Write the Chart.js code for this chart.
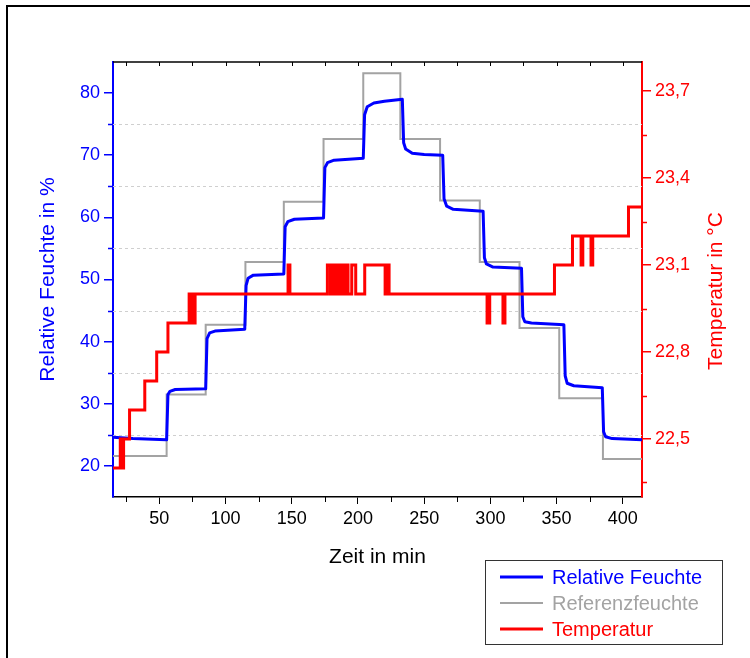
<!DOCTYPE html>
<html>
<head>
<meta charset="utf-8">
<script src="https://cdn.jsdelivr.net/npm/chart.js@4"></script>
<style>
  html, body { margin: 0; padding: 0; background: #fff; }
  #wrap { position: relative; width: 750px; height: 658px; }
</style>
</head>
<body>
<div id="wrap"><canvas id="chart" width="750" height="658"></canvas></div>
<script>
// ── data ────────────────────────────────────────────────────────────────────
const humTime = [15, 30, 45, 55.5, 56.5, 58, 62, 85,
                 86, 88, 92, 114.5, 115.5, 117, 121, 144,
                 145, 147, 152, 174, 175, 177, 182, 204,
                 205, 207, 212, 220, 233.5, 234.5, 236, 241, 250, 264,
                 265, 267, 272, 294.5, 295.5, 297, 302, 323.5,
                 324.5, 326, 331, 355.5, 356.5, 358, 363, 384.5,
                 385.5, 387, 392, 414.5];
const humVal  = [24.6, 24.4, 24.3, 24.2, 31.5, 32.0, 32.3, 32.4,
                 40.5, 41.4, 41.7, 42.0, 49.0, 50.2, 50.7, 50.9,
                 58.5, 59.3, 59.7, 59.9, 68.0, 68.8, 69.2, 69.5,
                 76.5, 77.8, 78.4, 78.7, 79.0, 72.0, 71.0, 70.3, 70.1, 70.0,
                 63.0, 61.8, 61.3, 61.0, 53.5, 52.5, 52.0, 51.8,
                 44.0, 43.2, 43.0, 42.7, 34.5, 33.3, 32.9, 32.6,
                 25.5, 24.7, 24.4, 24.2];

const refTime = [15, 55.5, 85, 115, 144, 174, 204, 232, 262, 292, 322, 352, 385, 414.5];
const refVal  = [21.6, 31.5, 42.7, 52.8, 62.5, 72.6, 83.2, 72.6, 62.7, 52.8, 42.2, 30.9, 21.1, 21.1];

const tempTime = [15, 20.5, 21.5, 23, 27.5, 39, 48, 56.5,
                  72.5, 73.3, 74, 74.8, 75.5, 76.3, 77, 77.8,
                  147.2, 148.6,
                  176.9, 179.2, 181.2, 182.7, 184.2, 186.2, 187.7, 189.5, 190.5, 192.5, 195.3, 198.3,
                  205.1, 220.5, 222.5, 223.5,
                  297.5, 299.5, 309.5, 311,
                  348.4, 362, 368.5, 369.8, 376, 377.3, 404.3, 414.5];
const tempVal  = [22.4, 22.5, 22.4, 22.5, 22.6, 22.7, 22.8, 22.9,
                  23.0, 22.9, 23.0, 22.9, 23.0, 22.9, 23.0, 23.0,
                  23.1, 23.0,
                  23.1, 23.0, 23.1, 23.0, 23.1, 23.0, 23.1, 23.0, 23.1, 23.0, 23.1, 23.0,
                  23.1, 23.0, 23.1, 23.0,
                  22.9, 23.0, 22.9, 23.0,
                  23.1, 23.2, 23.1, 23.2, 23.1, 23.2, 23.3, 23.3];

const xTicks      = [50, 100, 150, 200, 250, 300, 350, 400];
const xMinor      = [25, 75, 125, 175, 225, 275, 325, 375];
const humTicks    = [20, 30, 40, 50, 60, 70, 80];
const humMinor    = [25, 35, 45, 55, 65, 75];
const tempTicks   = [22.5, 22.8, 23.1, 23.4, 23.7];
const tempMinor   = [22.35, 22.65, 22.95, 23.25, 23.55];

const _blue = '#0000ff';
const _red  = '#ff0000';
const _gray = '#a3a3a3';
const _font = "'Liberation Sans', Arial, sans-serif";

const toXY = (xs, ys) => xs.map((x, i) => ({ x: x, y: ys[i] }));
const fixTicks = list => scale => { scale.ticks = list.map(v => ({ value: v })); };

// ── extras: dashed grid, minor ticks, top axis, frame, right title, legend ──
const extras = {
  id: 'extras',
  beforeDatasetsDraw(chart) {
    const { ctx, chartArea: a, scales } = chart;
    ctx.save();
    ctx.strokeStyle = '#cfcfcf';
    ctx.lineWidth = 1;
    ctx.setLineDash([3, 3]);
    humMinor.forEach(v => {
      const y = Math.round(scales.y.getPixelForValue(v)) + 0.5;
      ctx.beginPath(); ctx.moveTo(a.left, y); ctx.lineTo(a.right, y); ctx.stroke();
    });
    ctx.restore();
  },
  afterDatasetsDraw(chart) {
    const { ctx, chartArea: a, scales } = chart;
    ctx.save();
    // top axis
    ctx.strokeStyle = '#000';
    ctx.lineWidth = 1.5;
    ctx.beginPath(); ctx.moveTo(a.left, a.top); ctx.lineTo(a.right, a.top); ctx.stroke();
    ctx.lineWidth = 1;
    xTicks.concat(xMinor).forEach(v => {
      const x = Math.round(scales.x.getPixelForValue(v)) + 0.5;
      ctx.beginPath(); ctx.moveTo(x, a.top); ctx.lineTo(x, a.top + 4); ctx.stroke();
    });
    // bottom minor ticks
    xMinor.forEach(v => {
      const x = Math.round(scales.x.getPixelForValue(v)) + 0.5;
      ctx.beginPath(); ctx.moveTo(x, a.bottom); ctx.lineTo(x, a.bottom + 5); ctx.stroke();
    });
    // left minor ticks
    ctx.strokeStyle = _blue;
    ctx.lineWidth = 1.5;
    humMinor.forEach(v => {
      const y = Math.round(scales.y.getPixelForValue(v)) + 0.5;
      ctx.beginPath(); ctx.moveTo(a.left - 5, y); ctx.lineTo(a.left, y); ctx.stroke();
    });
    // right minor ticks
    ctx.strokeStyle = _red;
    tempMinor.forEach(v => {
      const y = Math.round(scales.y1.getPixelForValue(v)) + 0.5;
      ctx.beginPath(); ctx.moveTo(a.right, y); ctx.lineTo(a.right + 5, y); ctx.stroke();
    });
    ctx.restore();
  },
  afterDraw(chart) {
    const { ctx, chartArea: a } = chart;
    ctx.save();
    // outer frame (only top and left edges fall inside the picture)
    ctx.strokeStyle = '#000';
    ctx.lineWidth = 2;
    ctx.beginPath(); ctx.moveTo(7, 658); ctx.lineTo(7, 6); ctx.lineTo(750, 6); ctx.stroke();

    // right axis title, read bottom to top
    ctx.fillStyle = _red;
    ctx.font = '21px ' + _font;
    ctx.textAlign = 'center';
    ctx.textBaseline = 'middle';
    ctx.translate(716, 291);
    ctx.rotate(-Math.PI / 2);
    ctx.fillText('Temperatur in °C', 0, 0);
    ctx.restore();

    // legend box
    ctx.save();
    const bx = 485, by = 560, bw = 237, bh = 84;
    ctx.fillStyle = '#fff';
    ctx.fillRect(bx, by, bw, bh);
    ctx.strokeStyle = '#333';
    ctx.lineWidth = 1;
    ctx.strokeRect(bx + 0.5, by + 0.5, bw, bh);
    ctx.font = '20px ' + _font;
    ctx.textBaseline = 'middle';
    ctx.textAlign = 'left';
    chart.data.datasets.forEach((ds, i) => {
      const y = 577 + i * 26;
      ctx.strokeStyle = ds.borderColor;
      ctx.lineWidth = ds.borderWidth;
      ctx.beginPath(); ctx.moveTo(500, y); ctx.lineTo(543, y); ctx.stroke();
      ctx.fillStyle = ds.borderColor;
      ctx.fillText(ds.label, 552, y + 1);
    });
    ctx.restore();
  }
};

new Chart(document.getElementById('chart'), {
  type: 'line',
  data: {
    datasets: [
      { label: 'Relative Feuchte', data: toXY(humTime, humVal), yAxisID: 'y',
        borderColor: _blue, borderWidth: 3, pointRadius: 0, order: 1,
        borderJoinStyle: 'round' },
      { label: 'Referenzfeuchte', data: toXY(refTime, refVal), yAxisID: 'y',
        borderColor: _gray, borderWidth: 2, pointRadius: 0, stepped: true, order: 2 },
      { label: 'Temperatur', data: toXY(tempTime, tempVal), yAxisID: 'y1',
        borderColor: _red, borderWidth: 3, pointRadius: 0, stepped: true, order: 0 }
    ]
  },
  options: {
    responsive: false,
    animation: false,
    layout: { padding: { top: 62, left: 0, right: 0, bottom: 0 } },
    plugins: { legend: { display: false }, tooltip: { enabled: false } },
    scales: {
      x: {
        type: 'linear', min: 15, max: 414.5,
        afterBuildTicks: fixTicks(xTicks),
        afterFit: s => { s.height = 161; },
        ticks: { color: '#000', font: { family: _font, size: 18 }, padding: 4, maxRotation: 0 },
        grid: { drawOnChartArea: false, color: '#000', tickLength: 7, lineWidth: 1 },
        border: { color: '#000', width: 1.5 },
        title: { display: true, text: 'Zeit in min', color: '#000',
                 font: { family: _font, size: 21 }, padding: { top: 0, bottom: 88 } }
      },
      y: {
        position: 'left', min: 15, max: 85,
        afterBuildTicks: fixTicks(humTicks),
        afterFit: s => { s.width = 113; },
        ticks: { color: _blue, font: { family: _font, size: 18 }, padding: 4 },
        grid: { drawOnChartArea: false, color: _blue, tickLength: 9, lineWidth: 1.5 },
        border: { color: _blue, width: 2 },
        title: { display: true, text: 'Relative Feuchte in %', color: _blue,
                 font: { family: _font, size: 21 }, padding: { top: 36, bottom: 0 } }
      },
      y1: {
        position: 'right', min: 22.3, max: 23.8,
        afterBuildTicks: fixTicks(tempTicks),
        afterFit: s => { s.width = 108; },
        ticks: { color: _red, font: { family: _font, size: 18 }, padding: 4,
                 callback: v => v.toFixed(1).replace('.', ',') },
        grid: { drawOnChartArea: false, color: _red, tickLength: 9, lineWidth: 1.5 },
        border: { color: _red, width: 2 }
      }
    }
  },
  plugins: [extras]
});
</script>
</body>
</html>
